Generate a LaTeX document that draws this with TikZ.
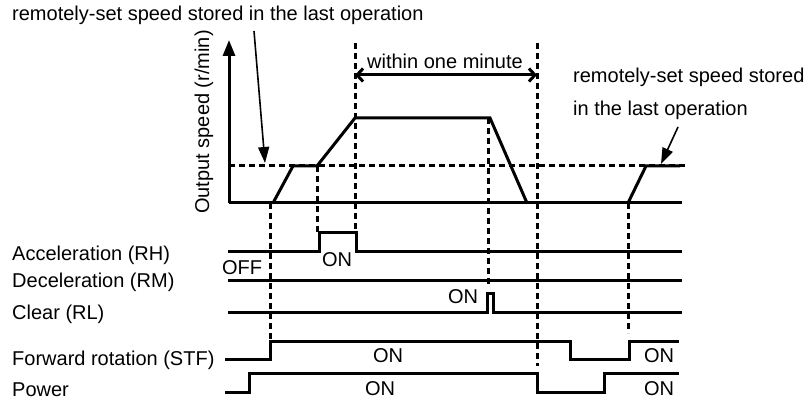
\documentclass[tikz,border=0pt]{standalone}
\usepackage{fontspec}
\setmainfont{Liberation Sans}
\usetikzlibrary{arrows.meta}
\begin{document}
\begin{tikzpicture}[x=1pt,y=-1pt,
  sig/.style={line width=3pt,line join=miter},
  guide/.style={line width=3pt,dash pattern=on 6pt off 4pt},
  lbl/.style={inner sep=0pt,font=\fontsize{20}{23}\selectfont},
  callout/.style={line width=1.6pt,-{Triangle[width=11pt,length=16pt]}},
  span/.style={line width=3pt,{Straight Barb[length=6pt,width=13pt]}-{Straight Barb[length=6pt,width=13pt]}}]
\useasboundingbox (0,0) rectangle (807,401);

% guides
\draw[guide] (229,166) -- (685,166);
\draw[guide] (270,203) -- (270,341);
\draw[guide] (317,166) -- (317,233);
\draw[guide] (355,43) -- (355,233);
\draw[guide] (488,118) -- (488,284);
\draw[guide] (537,43) -- (537,366);
\draw[guide] (628,203) -- (628,333);

% axis and speed
\draw[sig,-{Triangle[width=12pt,length=16pt]}] (229,203) -- (229,40);
\draw[sig] (229,203) -- (682,203);
\draw[sig] (273,203) -- (293,166) -- (317,166) -- (355,118) -- (490,118) -- (527,203);
\draw[sig] (628,203) -- (646,166) -- (680,166);

% texts
\node[lbl,anchor=west] (top) at (12,15) {remotely-set speed stored in the last operation};
\node[lbl,anchor=west] (r1) at (573,77) {remotely-set speed stored};
\node[lbl,anchor=west] (r2) at (573,110) {in the last operation};
\node[lbl] (win) at (445,61) {within one minute};
\node[lbl,rotate=90] (ylab) at (204,122) {Output speed (r/min)};

\coordinate (a1s) at (254,31);
\coordinate (a1e) at (265,163);
\coordinate (a2s) at (678,127);
\coordinate (a2e) at (661,164);
\draw[callout] (a1s) -- (a1e);
\draw[callout] (a2s) -- (a2e);
\coordinate (wl) at (355,75);
\coordinate (wr) at (537,75);
\draw[span] (wl) -- (wr);

% signals
\node[lbl,anchor=west] (rh) at (12,255) {Acceleration (RH)};
\node[lbl,anchor=west] (rm) at (12,282) {Deceleration (RM)};
\node[lbl,anchor=west] (rl) at (12,314) {Clear (RL)};
\node[lbl,anchor=west] (stf) at (12,360) {Forward rotation (STF)};
\node[lbl,anchor=west] (pw) at (12,390) {Power};

\draw[sig] (228,252) -- (319,252) -- (319,233) -- (356,233) -- (356,252) -- (682,252);
\draw[sig] (228,281) -- (682,281);
\draw[sig] (228,312) -- (487,312) -- (487,294) -- (493,294) -- (493,312) -- (682,312);
\draw[sig] (225,359) -- (270,359) -- (270,341) -- (570,341) -- (570,359) -- (629,359) -- (629,341) -- (679,341);
\draw[sig] (225,392) -- (249,392) -- (249,373) -- (537,373) -- (537,392) -- (604,392) -- (604,373) -- (679,373);

\node[lbl] (off) at (242,268) {OFF};
\node[lbl] (onrh) at (337,260) {ON};
\node[lbl] (onrl) at (463,297) {ON};
\node[lbl] (onstf) at (388,356) {ON};
\node[lbl] (onpw) at (380,389) {ON};
\node[lbl] (onstf2) at (659,356) {ON};
\node[lbl] (onpw2) at (659,389) {ON};
\end{tikzpicture}
\end{document}
